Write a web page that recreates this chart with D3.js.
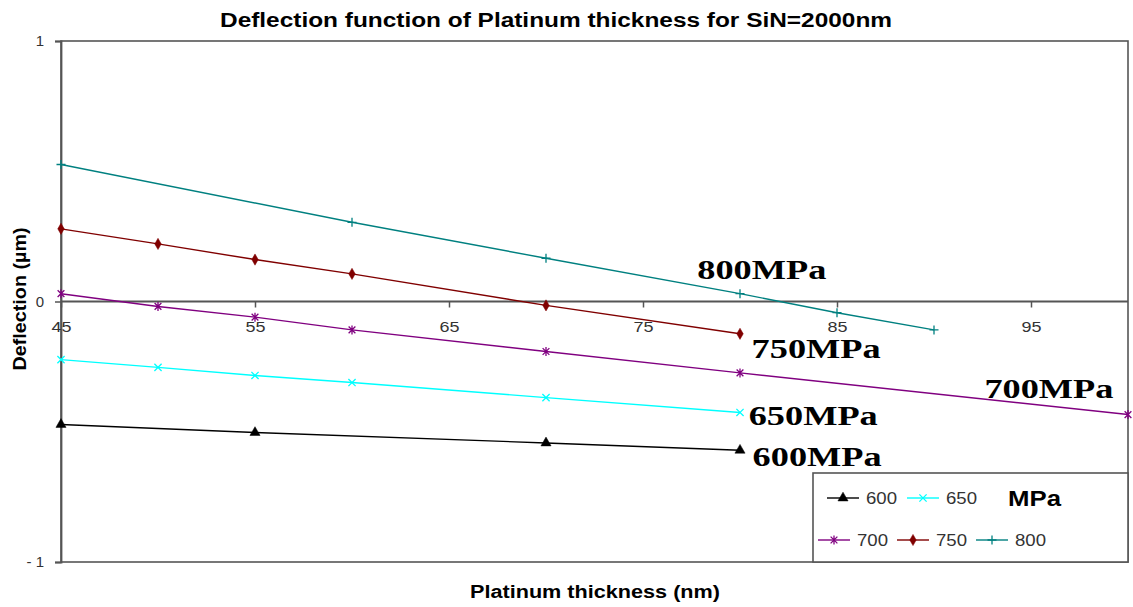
<!DOCTYPE html>
<html>
<head>
<meta charset="utf-8">
<script src="https://cdn.jsdelivr.net/npm/d3@7"></script>
<style>
  html, body { margin: 0; padding: 0; background: #fff; }
  svg { display: block; }
</style>
</head>
<body>
<svg id="chart" width="1133" height="607"></svg>
<script>
// ---- data ----
const seriesNames = ["600", "650", "700", "750", "800"];
const x600 = [45, 55, 70, 80];
const y600 = [-0.472, -0.503, -0.543, -0.571];
const x650 = [45, 50, 55, 60, 70, 80];
const y650 = [-0.223, -0.253, -0.284, -0.311, -0.369, -0.426];
const x700 = [45, 50, 55, 60, 70, 80, 100];
const y700 = [0.030, -0.019, -0.060, -0.109, -0.192, -0.274, -0.434];
const x750 = [45, 50, 55, 60, 70, 80];
const y750 = [0.279, 0.221, 0.161, 0.106, -0.015, -0.124];
const x800 = [45, 60, 70, 80, 85, 90];
const y800 = [0.526, 0.304, 0.166, 0.030, -0.043, -0.109];
const xTicks = [45, 55, 65, 75, 85, 95];
const yTicks = [-1, 0, 1];
const seriesLabels = ["600MPa", "650MPa", "700MPa", "750MPa", "800MPa"];
const labelAnchorX = [80.65, 80.45, 92.6, 80.6, 77.8];
const labelAnchorY = [-0.633, -0.476, -0.369, -0.215, 0.088];

const titleText = "Deflection function of Platinum thickness for SiN=2000nm";
const xTitle = "Platinum thickness (nm)";
const yTitle = "Deflection (\u00b5m)";

// ---- styles ----
const colors = { "600": "#000000", "650": "#00ffff", "700": "#800080", "750": "#800000", "800": "#008080" };
const markerType = { "600": "triangle", "650": "x", "700": "star", "750": "diamond", "800": "plus" };
const SANS = "'Liberation Sans', Arial, sans-serif";
const SERIF = "'Liberation Serif', 'Times New Roman', serif";

const series = [
  { name: "600", xs: x600, ys: y600 },
  { name: "650", xs: x650, ys: y650 },
  { name: "700", xs: x700, ys: y700 },
  { name: "750", xs: x750, ys: y750 },
  { name: "800", xs: x800, ys: y800 }
].map(s => ({ name: s.name, pts: s.xs.map((x, i) => ({ x, y: s.ys[i] })) }));

const svg = d3.select("#chart");
const L = 61, R = 1128, T = 41, B = 562;
const xScale = d3.scaleLinear().domain([45, 100]).range([L, R]);
const yScale = d3.scaleLinear().domain([-1, 1]).range([B, T]);

// plot frame
svg.append("rect").attr("x", L).attr("y", T).attr("width", R - L).attr("height", B - T)
  .attr("fill", "none").attr("stroke", "#555").attr("stroke-width", 1.6);

// y axis
const yAxis = svg.append("g").attr("transform", `translate(${L},0)`)
  .call(d3.axisLeft(yScale).tickValues(yTicks).tickSize(6).tickPadding(11).tickFormat(d3.format("d")));
yAxis.select(".domain").attr("stroke", "#555").attr("stroke-width", 1.8);
yAxis.selectAll(".tick line").attr("stroke", "#555").attr("stroke-width", 1.5);
yAxis.selectAll(".tick text").attr("font-family", SANS).attr("font-size", 15).attr("fill", "#333")
  .text(d => d < 0 ? "- " + Math.abs(d) : d);

// x axis at y = 0
const xAxis = svg.append("g").attr("transform", `translate(0,${yScale(0)})`)
  .call(d3.axisBottom(xScale).tickValues(xTicks).tickSize(6).tickPadding(14).tickFormat(d3.format("d")));
xAxis.select(".domain").attr("stroke", "#555").attr("stroke-width", 2)
  .attr("d", `M${L},0H${R}`);
xAxis.selectAll(".tick line").attr("stroke", "#555").attr("stroke-width", 1.5);
xAxis.selectAll(".tick text").attr("font-family", SANS).attr("font-size", 15).attr("fill", "#333")
  .attr("textLength", 20).attr("lengthAdjust", "spacingAndGlyphs");

// markers
function markerPath(type, size) {
  const h = size / 2;
  switch (type) {
    case "triangle": return d3.symbol().type(d3.symbolTriangle).size(size * size * 0.55)();
    case "diamond": return d3.symbol().type(d3.symbolDiamond).size(size * size * 0.45)();
    case "plus": return `M${-h},0H${h}M0,${-h}V${h}`;
    case "x": return `M${-h * 0.8},${-h * 0.8}L${h * 0.8},${h * 0.8}M${-h * 0.8},${h * 0.8}L${h * 0.8},${-h * 0.8}`;
    case "star": return `M${-h * 0.75},${-h * 0.75}L${h * 0.75},${h * 0.75}M${-h * 0.75},${h * 0.75}L${h * 0.75},${-h * 0.75}M0,${-h}V${h}`;
  }
}
function isFilled(type) { return type === "triangle" || type === "diamond"; }

const line = d3.line().x(d => xScale(d.x)).y(d => yScale(d.y));
const gSeries = svg.append("g");
series.forEach(s => {
  const c = colors[s.name], t = markerType[s.name];
  gSeries.append("path").datum(s.pts).attr("d", line)
    .attr("fill", "none").attr("stroke", c).attr("stroke-width", 1.4);
  gSeries.selectAll(null).data(s.pts).enter().append("path")
    .attr("transform", d => `translate(${xScale(d.x)},${yScale(d.y)})`)
    .attr("d", markerPath(t, 9))
    .attr("fill", isFilled(t) ? c : "none")
    .attr("stroke", c).attr("stroke-width", isFilled(t) ? 0.5 : 1.3);
});

// series labels
seriesLabels.forEach((lbl, i) => {
  svg.append("text").attr("x", xScale(labelAnchorX[i])).attr("y", yScale(labelAnchorY[i]))
    .attr("font-family", SERIF).attr("font-weight", "bold").attr("font-size", 27)
    .attr("fill", "#000").attr("textLength", 129).attr("lengthAdjust", "spacingAndGlyphs")
    .text(lbl);
});

// title
svg.append("text").attr("x", 556).attr("y", 27).attr("text-anchor", "middle")
  .attr("font-family", SANS).attr("font-weight", "bold").attr("font-size", 20)
  .attr("textLength", 672).attr("lengthAdjust", "spacingAndGlyphs").text(titleText);

// axis titles
svg.append("text").attr("x", 595).attr("y", 598).attr("text-anchor", "middle")
  .attr("font-family", SANS).attr("font-weight", "bold").attr("font-size", 18)
  .attr("textLength", 250).attr("lengthAdjust", "spacingAndGlyphs").text(xTitle);
svg.append("text").attr("transform", "translate(26,299) rotate(-90)").attr("text-anchor", "middle")
  .attr("font-family", SANS).attr("font-weight", "bold").attr("font-size", 19)
  .attr("textLength", 143).attr("lengthAdjust", "spacingAndGlyphs").text(yTitle);

// legend
const leg = svg.append("g");
leg.append("rect").attr("x", 813).attr("y", 473).attr("width", R - 813).attr("height", B - 473)
  .attr("fill", "#fff").attr("stroke", "#555").attr("stroke-width", 1.6);
const legPos = {
  "600": [827, 498], "650": [907, 498],
  "700": [818, 540], "750": [897, 540], "800": [976, 540]
};
seriesNames.forEach(n => {
  const [lx, ly] = legPos[n], c = colors[n], t = markerType[n];
  leg.append("line").attr("x1", lx).attr("x2", lx + 32).attr("y1", ly).attr("y2", ly)
    .attr("stroke", c).attr("stroke-width", 1.4);
  leg.append("path").attr("transform", `translate(${lx + 16},${ly})`).attr("d", markerPath(t, 9))
    .attr("fill", isFilled(t) ? c : "none").attr("stroke", c).attr("stroke-width", isFilled(t) ? 0.5 : 1.3);
  leg.append("text").attr("x", lx + 39).attr("y", ly + 6).attr("font-family", SANS).attr("font-size", 16)
    .attr("fill", "#333").attr("textLength", 31).attr("lengthAdjust", "spacingAndGlyphs").text(n);
});
leg.append("text").attr("x", 1008).attr("y", 506).attr("font-family", SANS).attr("font-weight", "bold")
  .attr("font-size", 22).attr("textLength", 53).attr("lengthAdjust", "spacingAndGlyphs").text("MPa");
</script>
</body>
</html>
